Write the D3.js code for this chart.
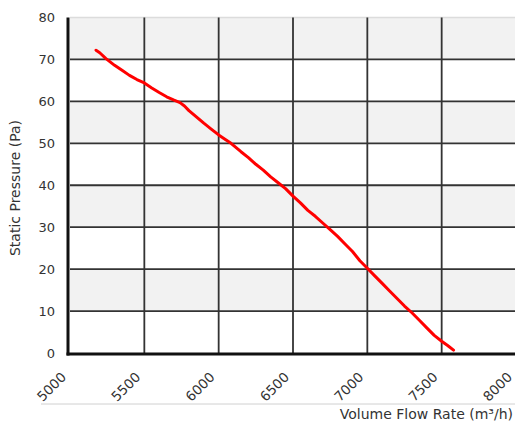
<!DOCTYPE html>
<html>
<head>
<meta charset="utf-8">
<script src="https://cdn.jsdelivr.net/npm/d3@7"></script>
<style>
  body { margin: 0; background: #fff; }
  svg { display: block; font-family: "DejaVu Sans", sans-serif; }
</style>
</head>
<body>
<svg id="chart" width="515" height="424"></svg>
<script>
// fan curve
const flowRate = [5175, 5200, 5242, 5300, 5350, 5400, 5450, 5500, 5550, 5600, 5650, 5700, 5740, 5770, 5800, 5850, 5900, 5950, 6000, 6050, 6083, 6150, 6200, 6250, 6300, 6350, 6400, 6450, 6500, 6550, 6600, 6650, 6700, 6750, 6800, 6850, 6900, 6950, 7000, 7050, 7100, 7150, 7200, 7250, 7300, 7350, 7400, 7450, 7500, 7540, 7580];
const pressure = [72.2, 71.6, 70.2, 68.6, 67.4, 66.2, 65.2, 64.4, 63.2, 62.1, 61.1, 60.3, 59.7, 58.9, 57.8, 56.3, 54.8, 53.4, 52.0, 50.8, 50.0, 48.0, 46.6, 45.0, 43.6, 42.0, 40.6, 39.2, 37.4, 35.8, 34.0, 32.6, 31.0, 29.4, 27.8, 26.0, 24.2, 22.0, 20.2, 18.4, 16.6, 14.8, 13.0, 11.2, 9.6, 7.8, 6.0, 4.2, 2.8, 1.8, 0.7];
const xTicks = [5000, 5500, 6000, 6500, 7000, 7500, 8000];
const yTicks = [0, 10, 20, 30, 40, 50, 60, 70, 80];

const svg = d3.select("#chart");
const plotL = 70, plotR = 516, plotT = 17.5, plotB = 353;

const x = d3.scaleLinear().domain([5000, 8000]).range([plotL, plotR]);
const y = d3.scaleLinear().domain([0, 80]).range([plotB, plotT]);

// alternating bands
const bands = yTicks.slice(0, -1).filter(v => (v / 10) % 2 === 1);
svg.append("rect").attr("x", plotL).attr("y", plotT).attr("width", plotR - plotL).attr("height", plotB - plotT).attr("fill", "#fff");
svg.selectAll(".band").data(bands).enter().append("rect")
    .attr("x", plotL).attr("width", plotR - plotL)
    .attr("y", d => y(d + 10)).attr("height", d => y(d) - y(d + 10))
    .attr("fill", "#f2f2f2");

// top border
svg.append("line").attr("x1", plotL).attr("x2", plotR).attr("y1", plotT).attr("y2", plotT)
    .attr("stroke", "#dcdcdc").attr("stroke-width", 1.5);

// grid
svg.selectAll(".hg").data(yTicks.filter(v => v > 0 && v < 80)).enter().append("line")
    .attr("x1", plotL).attr("x2", plotR).attr("y1", d => y(d)).attr("y2", d => y(d))
    .attr("stroke", "#333").attr("stroke-width", 1.8);
svg.selectAll(".vg").data(xTicks.filter(v => v > 5000)).enter().append("line")
    .attr("x1", d => x(d)).attr("x2", d => x(d)).attr("y1", plotT).attr("y2", plotB)
    .attr("stroke", "#333").attr("stroke-width", 1.8);

// curve
const line = d3.line().x((d, i) => x(flowRate[i])).y(d => y(d));
svg.append("path").datum(pressure).attr("d", line)
    .attr("fill", "none").attr("stroke", "#ff0000").attr("stroke-width", 3)
    .attr("stroke-linejoin", "round").attr("stroke-linecap", "round");

// axes lines
svg.append("line").attr("x1", plotL - 2).attr("x2", plotL - 2).attr("y1", plotT).attr("y2", plotB + 2.5)
    .attr("stroke", "#111").attr("stroke-width", 3);
svg.append("line").attr("x1", plotL - 3.5).attr("x2", plotR).attr("y1", plotB + 1).attr("y2", plotB + 1)
    .attr("stroke", "#111").attr("stroke-width", 3);

// y tick labels
svg.selectAll(".yl").data(yTicks).enter().append("text")
    .attr("x", 55).attr("y", d => y(d)).attr("dy", "0.36em")
    .attr("text-anchor", "end").attr("font-size", 13).attr("fill", "#333")
    .text(d => d);

// x tick labels
svg.selectAll(".xl").data(xTicks).enter().append("text")
    .attr("transform", d => `translate(${x(d) - 3},378) rotate(-45)`)
    .attr("text-anchor", "end").attr("font-size", 13.5).attr("fill", "#333")
    .text(d => d);

// separator under labels
svg.append("line").attr("x1", 41).attr("x2", 515).attr("y1", 404).attr("y2", 404)
    .attr("stroke", "#d0d0d0").attr("stroke-width", 1);

// titles
svg.append("text").attr("x", 513).attr("y", 419).attr("text-anchor", "end")
    .attr("font-size", 14).attr("fill", "#333").text("Volume Flow Rate (m³/h)");
svg.append("text").attr("transform", "translate(19.5,188) rotate(-90)").attr("text-anchor", "middle")
    .attr("font-size", 14).attr("fill", "#333").text("Static Pressure (Pa)");
</script>
</body>
</html>
